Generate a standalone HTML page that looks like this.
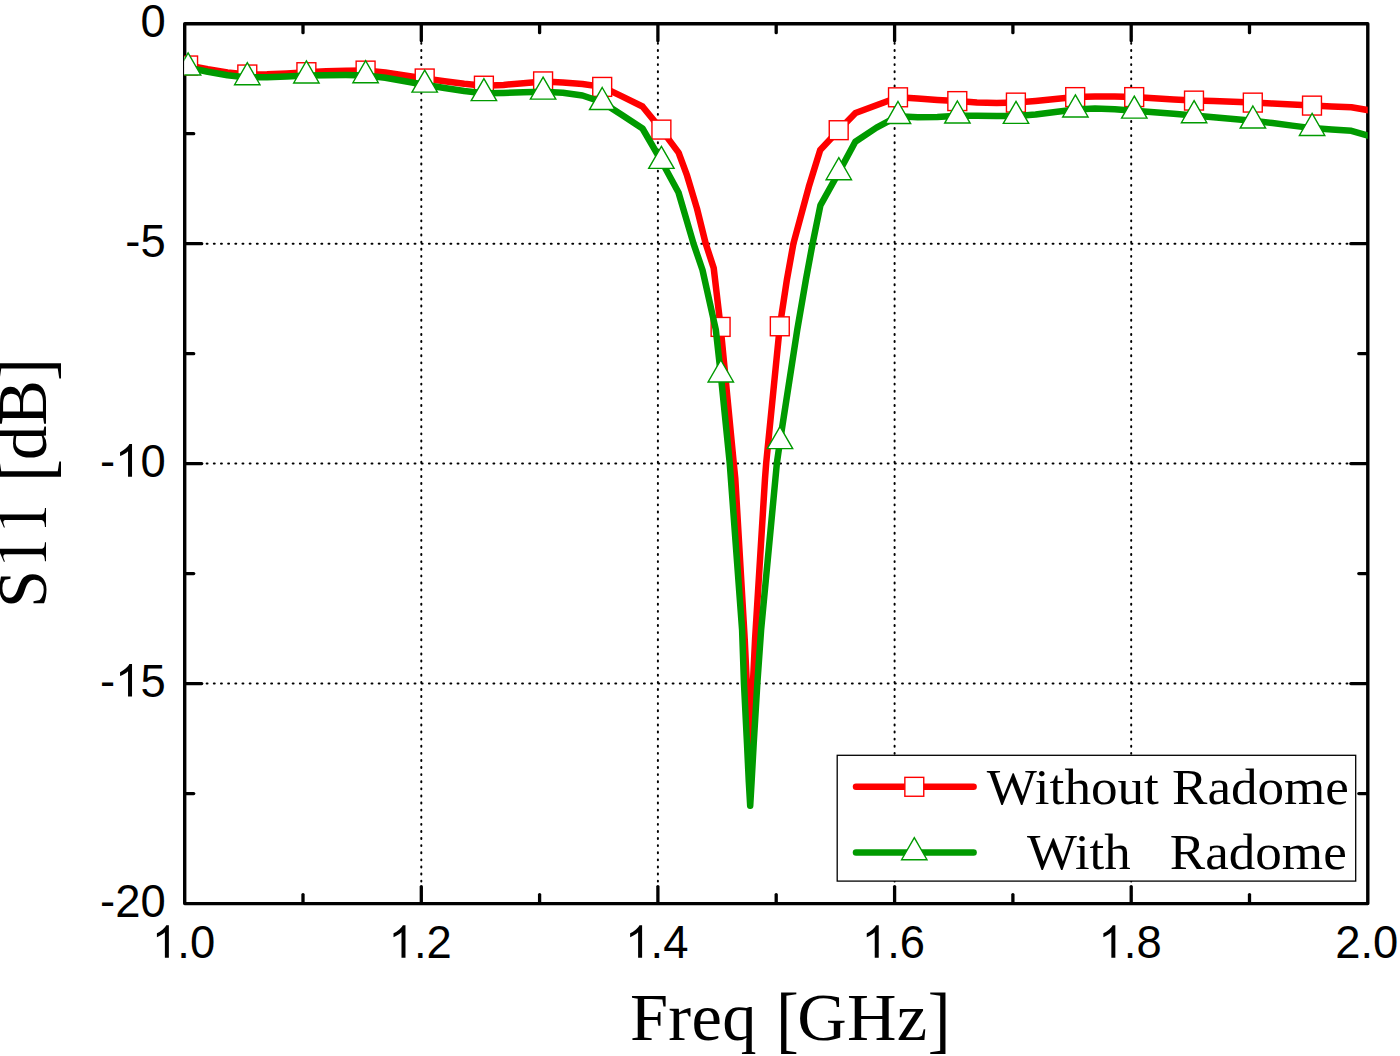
<!DOCTYPE html>
<html><head><meta charset="utf-8"><title>S11</title>
<style>
html,body{margin:0;padding:0;background:#fff;}
body{width:1400px;height:1056px;overflow:hidden;position:relative;}
svg{position:absolute;left:0;top:0;display:block;}
.tk{font-family:"Liberation Sans",sans-serif;font-size:47.1px;fill:#000;}
.tt{font-family:"Liberation Serif",serif;fill:#000;}
</style></head><body>
<svg width="1400" height="1056" viewBox="0 0 1400 1056">
<rect x="0" y="0" width="1400" height="1056" fill="#fff"/>
<defs><clipPath id="cp"><rect x="184.3" y="23.7" width="1183.5" height="879.9"/></clipPath></defs>
<g stroke="#000" stroke-width="2.0" stroke-linecap="round" fill="none">
<g stroke-dasharray="0.9 6.2">
<line x1="421.3" y1="902.9" x2="421.3" y2="23.7"/>
<line x1="657.9" y1="902.9" x2="657.9" y2="23.7"/>
<line x1="894.6" y1="902.9" x2="894.6" y2="23.7"/>
<line x1="1131.2" y1="902.9" x2="1131.2" y2="23.7"/>
</g><g stroke-dasharray="0.9 6.269">
<line x1="185.15" y1="243.7" x2="1367.8" y2="243.7"/>
<line x1="185.15" y1="463.6" x2="1367.8" y2="463.6"/>
<line x1="185.15" y1="683.6" x2="1367.8" y2="683.6"/>
</g></g>
<g stroke="#000" stroke-width="3.3" stroke-linecap="round" fill="none">
<line x1="303.0" y1="903.0" x2="303.0" y2="894.6"/>
<line x1="303.0" y1="24.3" x2="303.0" y2="32.7"/>
<line x1="421.3" y1="903.0" x2="421.3" y2="886.6"/>
<line x1="421.3" y1="24.3" x2="421.3" y2="40.7"/>
<line x1="539.6" y1="903.0" x2="539.6" y2="894.6"/>
<line x1="539.6" y1="24.3" x2="539.6" y2="32.7"/>
<line x1="657.9" y1="903.0" x2="657.9" y2="886.6"/>
<line x1="657.9" y1="24.3" x2="657.9" y2="40.7"/>
<line x1="776.2" y1="903.0" x2="776.2" y2="894.6"/>
<line x1="776.2" y1="24.3" x2="776.2" y2="32.7"/>
<line x1="894.6" y1="903.0" x2="894.6" y2="886.6"/>
<line x1="894.6" y1="24.3" x2="894.6" y2="40.7"/>
<line x1="1012.9" y1="903.0" x2="1012.9" y2="894.6"/>
<line x1="1012.9" y1="24.3" x2="1012.9" y2="32.7"/>
<line x1="1131.2" y1="903.0" x2="1131.2" y2="886.6"/>
<line x1="1131.2" y1="24.3" x2="1131.2" y2="40.7"/>
<line x1="1249.5" y1="903.0" x2="1249.5" y2="894.6"/>
<line x1="1249.5" y1="24.3" x2="1249.5" y2="32.7"/>
<line x1="185.3" y1="133.7" x2="193.7" y2="133.7"/>
<line x1="1367.2" y1="133.7" x2="1358.8" y2="133.7"/>
<line x1="185.3" y1="243.7" x2="201.7" y2="243.7"/>
<line x1="1367.2" y1="243.7" x2="1350.8" y2="243.7"/>
<line x1="185.3" y1="353.7" x2="193.7" y2="353.7"/>
<line x1="1367.2" y1="353.7" x2="1358.8" y2="353.7"/>
<line x1="185.3" y1="463.6" x2="201.7" y2="463.6"/>
<line x1="1367.2" y1="463.6" x2="1350.8" y2="463.6"/>
<line x1="185.3" y1="573.6" x2="193.7" y2="573.6"/>
<line x1="1367.2" y1="573.6" x2="1358.8" y2="573.6"/>
<line x1="185.3" y1="683.6" x2="201.7" y2="683.6"/>
<line x1="1367.2" y1="683.6" x2="1350.8" y2="683.6"/>
<line x1="185.3" y1="793.6" x2="193.7" y2="793.6"/>
<line x1="1367.2" y1="793.6" x2="1358.8" y2="793.6"/>
</g>
<rect x="184.7" y="23.7" width="1183.1" height="879.9" fill="none" stroke="#000" stroke-width="3.4" stroke-linejoin="round"/>
<g clip-path="url(#cp)">
<polyline points="188.1,65.5 207.8,69.2 227.5,72.4 247.3,74.5 267.0,74.2 286.7,73.4 306.4,72.2 326.1,71.3 345.9,70.8 365.6,70.6 385.3,72.5 405.0,75.5 424.7,78.5 444.5,81.2 464.2,83.8 483.9,85.7 503.6,84.9 523.3,83.2 543.1,81.4 562.8,82.4 582.5,84.0 602.2,86.9 622.0,96.4 642.5,106.5 661.4,129.6 678.6,152.6 687.1,175.7 697.0,208.6 705.7,243.6 713.7,268.0 720.6,326.9 733.7,462.8 735.3,478.7 744.7,639.0 749.8,747.0 755.1,639.0 765.0,478.7 766.2,463.0 779.8,326.3 787.0,279.1 793.4,243.6 808.8,186.8 820.2,150.0 838.7,130.2 855.5,113.0 898.0,97.3 917.7,98.6 937.4,99.9 957.3,101.1 977.0,102.4 996.7,103.0 1015.9,102.6 1035.6,101.0 1055.3,99.0 1075.2,97.1 1095.0,96.4 1114.7,96.4 1134.2,97.1 1154.0,98.3 1173.7,99.4 1194.0,100.6 1213.5,101.1 1233.2,101.8 1252.8,102.6 1272.5,103.6 1292.2,104.6 1312.0,105.6 1331.7,106.5 1351.4,107.3 1371.1,110.6" fill="none" stroke="#ff0000" stroke-width="6.5" stroke-linejoin="round" stroke-linecap="round"/>
<g fill="#fff" stroke="#ff0000" stroke-width="1.4"><rect x="178.65" y="56.05" width="18.9" height="18.9"/><rect x="237.85" y="65.05" width="18.9" height="18.9"/><rect x="296.95" y="62.75" width="18.9" height="18.9"/><rect x="356.15" y="61.15" width="18.9" height="18.9"/><rect x="415.25" y="69.05" width="18.9" height="18.9"/><rect x="474.45" y="76.25" width="18.9" height="18.9"/><rect x="533.65" y="71.95" width="18.9" height="18.9"/><rect x="592.75" y="77.45" width="18.9" height="18.9"/><rect x="651.95" y="120.15" width="18.9" height="18.9"/><rect x="711.15" y="317.45" width="18.9" height="18.9"/><rect x="770.35" y="316.85" width="18.9" height="18.9"/><rect x="829.25" y="120.75" width="18.9" height="18.9"/><rect x="888.55" y="87.85" width="18.9" height="18.9"/><rect x="947.85" y="91.65" width="18.9" height="18.9"/><rect x="1006.45" y="93.15" width="18.9" height="18.9"/><rect x="1065.75" y="87.65" width="18.9" height="18.9"/><rect x="1124.75" y="87.65" width="18.9" height="18.9"/><rect x="1184.55" y="91.15" width="18.9" height="18.9"/><rect x="1243.35" y="93.15" width="18.9" height="18.9"/><rect x="1302.55" y="96.15" width="18.9" height="18.9"/></g>
<polyline points="188.1,67.6 207.8,71.8 227.5,75.2 247.3,77.4 267.0,77.2 286.7,76.5 306.4,75.6 326.1,75.2 345.9,75.1 365.6,75.4 385.3,77.8 405.0,81.2 424.7,84.8 444.5,88.0 464.2,91.0 483.9,93.3 503.6,92.9 523.3,92.3 543.1,91.8 562.8,92.8 582.5,95.5 602.2,102.2 622.0,115.0 642.5,128.5 661.4,161.0 678.5,192.5 693.5,243.6 702.5,270.0 715.8,329.6 720.8,374.6 729.7,462.8 742.1,630.0 744.0,684.0 747.0,743.6 748.8,781.5 750.2,805.7 751.6,781.5 753.7,743.6 757.3,684.0 761.1,630.0 776.9,463.0 780.0,441.3 797.3,329.6 806.0,279.1 812.6,243.6 820.4,205.3 838.8,172.4 855.3,141.7 876.5,127.6 898.0,116.2 917.7,117.3 937.4,117.0 957.4,115.7 977.0,115.7 996.7,115.9 1016.0,116.0 1035.6,114.5 1055.3,112.0 1075.4,109.6 1095.0,108.6 1114.7,109.2 1134.3,110.8 1154.0,112.2 1173.7,113.7 1194.1,115.4 1213.5,117.2 1233.2,119.0 1252.9,120.7 1272.5,123.0 1292.2,125.6 1312.1,128.1 1331.7,129.6 1351.4,130.8 1371.1,136.5" fill="none" stroke="#009a00" stroke-width="6.5" stroke-linejoin="round" stroke-linecap="round"/>
<g fill="#fff" stroke="#009a00" stroke-width="1.4" stroke-linejoin="miter"><polygon points="188.10,52.90 200.80,74.95 175.40,74.95"/><polygon points="247.30,62.70 260.00,84.75 234.60,84.75"/><polygon points="306.40,60.90 319.10,82.95 293.70,82.95"/><polygon points="365.60,60.70 378.30,82.75 352.90,82.75"/><polygon points="424.70,70.10 437.40,92.15 412.00,92.15"/><polygon points="483.90,78.60 496.60,100.65 471.20,100.65"/><polygon points="543.10,77.10 555.80,99.15 530.40,99.15"/><polygon points="602.20,87.50 614.90,109.55 589.50,109.55"/><polygon points="661.40,146.30 674.10,168.35 648.70,168.35"/><polygon points="720.80,359.90 733.50,381.95 708.10,381.95"/><polygon points="780.00,426.60 792.70,448.65 767.30,448.65"/><polygon points="838.80,157.70 851.50,179.75 826.10,179.75"/><polygon points="898.00,101.50 910.70,123.55 885.30,123.55"/><polygon points="957.40,101.00 970.10,123.05 944.70,123.05"/><polygon points="1016.00,101.30 1028.70,123.35 1003.30,123.35"/><polygon points="1075.40,94.90 1088.10,116.95 1062.70,116.95"/><polygon points="1134.30,96.10 1147.00,118.15 1121.60,118.15"/><polygon points="1194.10,100.70 1206.80,122.75 1181.40,122.75"/><polygon points="1252.90,106.00 1265.60,128.05 1240.20,128.05"/><polygon points="1312.10,113.40 1324.80,135.45 1299.40,135.45"/></g>
</g>
<rect x="837.2" y="755.3" width="518.5" height="125.8" fill="#fff" stroke="#000" stroke-width="1.3"/>
<line x1="856" y1="786.8" x2="973.6" y2="786.8" stroke="#ff0000" stroke-width="6.5" stroke-linecap="round"/>
<g fill="#fff" stroke="#ff0000" stroke-width="1.4"><rect x="904.85" y="777.35" width="18.9" height="18.9"/></g>
<line x1="856" y1="852.4" x2="973.6" y2="852.4" stroke="#009a00" stroke-width="6.5" stroke-linecap="round"/>
<g fill="#fff" stroke="#009a00" stroke-width="1.4"><polygon points="914.30,837.70 927.00,859.75 901.60,859.75"/></g>
<g class="tt" font-size="51">
<text x="986.8" y="804.4" textLength="172.1" lengthAdjust="spacingAndGlyphs">Without</text>
<text x="1172.0" y="804.4" textLength="176.9" lengthAdjust="spacingAndGlyphs">Radome</text>
<text x="1027.1" y="869.3" textLength="103.6" lengthAdjust="spacingAndGlyphs">With</text>
<text x="1169.8" y="869.3" textLength="176.9" lengthAdjust="spacingAndGlyphs">Radome</text>
</g>
<g transform="translate(152.04,957.80)"><path transform="translate(0.00,0) scale(0.02217,-0.02217)" d="M759 0H579V1147Q514 1085 408.5 1023T219 930V1104Q370 1175 483 1276T643 1472H759Z"/><text class="tk" transform="translate(25.25,0) scale(0.9639,1)">.</text><text class="tk" transform="translate(37.86,0) scale(0.9639,1)">0</text></g>
<g transform="translate(388.66,957.80)"><path transform="translate(0.00,0) scale(0.02217,-0.02217)" d="M759 0H579V1147Q514 1085 408.5 1023T219 930V1104Q370 1175 483 1276T643 1472H759Z"/><text class="tk" transform="translate(25.25,0) scale(0.9639,1)">.</text><text class="tk" transform="translate(37.86,0) scale(0.9639,1)">2</text></g>
<g transform="translate(625.28,957.80)"><path transform="translate(0.00,0) scale(0.02217,-0.02217)" d="M759 0H579V1147Q514 1085 408.5 1023T219 930V1104Q370 1175 483 1276T643 1472H759Z"/><text class="tk" transform="translate(25.25,0) scale(0.9639,1)">.</text><text class="tk" transform="translate(37.86,0) scale(0.9639,1)">4</text></g>
<g transform="translate(861.90,957.80)"><path transform="translate(0.00,0) scale(0.02217,-0.02217)" d="M759 0H579V1147Q514 1085 408.5 1023T219 930V1104Q370 1175 483 1276T643 1472H759Z"/><text class="tk" transform="translate(25.25,0) scale(0.9639,1)">.</text><text class="tk" transform="translate(37.86,0) scale(0.9639,1)">6</text></g>
<g transform="translate(1098.52,957.80)"><path transform="translate(0.00,0) scale(0.02217,-0.02217)" d="M759 0H579V1147Q514 1085 408.5 1023T219 930V1104Q370 1175 483 1276T643 1472H759Z"/><text class="tk" transform="translate(25.25,0) scale(0.9639,1)">.</text><text class="tk" transform="translate(37.86,0) scale(0.9639,1)">8</text></g>
<g transform="translate(1335.14,957.80)"><text class="tk" transform="translate(0.00,0) scale(0.9639,1)">2</text><text class="tk" transform="translate(25.25,0) scale(0.9639,1)">.</text><text class="tk" transform="translate(37.86,0) scale(0.9639,1)">0</text></g>
<g transform="translate(140.45,36.70)"><text class="tk" transform="translate(0.00,0) scale(0.9639,1)">0</text></g>
<g transform="translate(125.33,256.67)"><text class="tk" transform="translate(0.00,0) scale(0.9639,1)">-</text><text class="tk" transform="translate(15.12,0) scale(0.9639,1)">5</text></g>
<g transform="translate(100.08,476.65)"><text class="tk" transform="translate(0.00,0) scale(0.9639,1)">-</text><path transform="translate(15.12,0) scale(0.02217,-0.02217)" d="M759 0H579V1147Q514 1085 408.5 1023T219 930V1104Q370 1175 483 1276T643 1472H759Z"/><text class="tk" transform="translate(40.37,0) scale(0.9639,1)">0</text></g>
<g transform="translate(100.08,696.62)"><text class="tk" transform="translate(0.00,0) scale(0.9639,1)">-</text><path transform="translate(15.12,0) scale(0.02217,-0.02217)" d="M759 0H579V1147Q514 1085 408.5 1023T219 930V1104Q370 1175 483 1276T643 1472H759Z"/><text class="tk" transform="translate(40.37,0) scale(0.9639,1)">5</text></g>
<g transform="translate(100.08,916.60)"><text class="tk" transform="translate(0.00,0) scale(0.9639,1)">-</text><text class="tk" transform="translate(15.12,0) scale(0.9639,1)">2</text><text class="tk" transform="translate(40.37,0) scale(0.9639,1)">0</text></g>
<g class="tt" font-size="68.5">
<text x="629.9" y="1040" letter-spacing="0.33">Freq</text>
<text transform="translate(776.0,1044.4) scale(1,1.067)">[</text>
<text x="797.2" y="1040" letter-spacing="0.33">GHz</text>
<text transform="translate(927.7,1044.4) scale(1,1.067)">]</text>
<g transform="translate(46.0,603.3) rotate(-90) scale(1,1.03)">
<text x="-4.6" y="0">S</text>
<path transform="translate(34.0,0) scale(0.06850,-0.06850)" d="M394 0H118V15C200 19 220 34 220 87V562C220 592 211 605 188 605C177 605 158 600 135 591L111 582V597L291 676L299 674V74C299 32 317 19 394 15Z"/>
<path transform="translate(68.3,0) scale(0.06850,-0.06850)" d="M394 0H118V15C200 19 220 34 220 87V562C220 592 211 605 188 605C177 605 158 600 135 591L111 582V597L291 676L299 674V74C299 32 317 19 394 15Z"/>
<text transform="translate(121.6,4.4) scale(1,1.067)">[</text>
<text x="143.4" y="0">dB</text>
<text transform="translate(222.3,4.4) scale(1,1.067)">]</text>
</g></g>
</svg></body></html>
